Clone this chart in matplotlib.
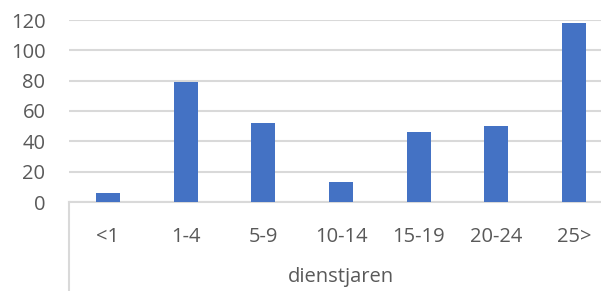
import matplotlib.pyplot as plt

categories = ['<1', '1-4', '5-9', '10-14', '15-19', '20-24', '25>']
values = [6, 79, 52, 13, 46, 50, 118]
y_ticks = [0, 20, 40, 60, 80, 100, 120]

text_color = '#595959'
grid_color = '#D9D9D9'
bar_color = '#4472C4'

plt.rcParams['font.family'] = ['Open Sans', 'DejaVu Sans']

fig = plt.figure(figsize=(6.01, 2.91), dpi=100)
# axes run a bit past the right edge, like the cropped original
ax = fig.add_axes([69 / 601, 89 / 291, 544 / 601, 182 / 291])

x = list(range(len(categories)))
ax.bar(x, values, width=0.31, color=bar_color, zorder=3)

ax.set_xlim(-0.5, len(categories) - 0.5)
ax.set_ylim(0, 120)
ax.set_yticks(y_ticks)
ax.yaxis.grid(True, color=grid_color, linewidth=1.5, zorder=0)

ax.set_xticks(x)
ax.set_xticklabels(categories)
ax.tick_params(axis='both', length=0, labelsize=14.5, colors=text_color)
ax.tick_params(axis='x', pad=18)
ax.tick_params(axis='y', pad=17)

for side in ['top', 'right', 'left']:
    ax.spines[side].set_visible(False)
ax.spines['bottom'].set_color(grid_color)
ax.spines['bottom'].set_linewidth(1.5)

# category box line on the left
ax.plot([0, 0], [0, -0.5], transform=ax.transAxes, color=grid_color,
        linewidth=1.5, clip_on=False)

fig.text(341 / 601, 1 - 277 / 291, 'dienstjaren', ha='center', va='center',
         fontsize=14.5, color=text_color)

fig.savefig('out.png', dpi=100)
